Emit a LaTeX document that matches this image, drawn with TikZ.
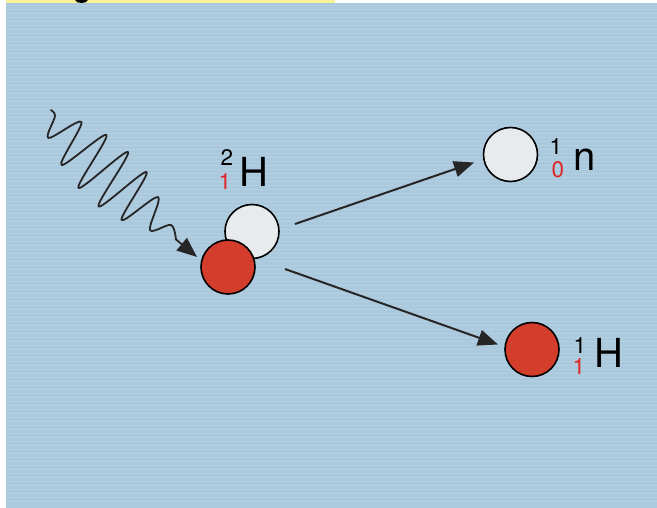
\documentclass[tikz,border=0pt]{standalone}
\usepackage{fontspec}
\setmainfont{TeX Gyre Heros}
\usetikzlibrary{arrows.meta}
\definecolor{bgblue}{RGB}{171,201,221}
\definecolor{stripe}{RGB}{188,213,230}
\definecolor{banner}{RGB}{250,242,150}
\definecolor{nucred}{RGB}{212,60,44}
\definecolor{nucwhite}{RGB}{232,235,237}
\definecolor{numred}{RGB}{222,40,40}
\tikzset{
  nucleon/.style={circle, draw=black, line width=1.6pt, minimum size=54pt, inner sep=0pt},
  proton/.style={nucleon, fill=nucred},
  neutron/.style={nucleon, fill=nucwhite},
  sym/.style={font=\fontsize{40}{40}\selectfont, inner sep=0pt, anchor=base west},
  num/.style={font=\fontsize{22.5}{22.5}\selectfont, inner sep=0pt, anchor=base},
  redn/.style={num, text=numred},
  reaction/.style={line width=2pt, draw=black!85, -{Triangle[length=20pt,width=16pt]}},
}
\begin{document}
\begin{tikzpicture}[x=1pt,y=-1pt]
\useasboundingbox (0,0) rectangle (657,508);
\fill[white] (0,0) rectangle (657,508);
\fill[bgblue] (6,3) rectangle (657,508);
\foreach \yy in {5,9,...,505} {\draw[stripe, line width=0.8pt, opacity=0.5] (6,\yy) -- (657,\yy);}
\fill[banner] (6,0) rectangle (335,3);
\fill[black] (75,0) .. controls (76,4) and (87,4) .. (88,0) -- cycle;

% deuteron
\node[neutron] (dn) at (252,231.5) {};
\node[proton] (dp) at (228,267) {};
\node[sym] (dH) at (239,187) {H};
\node[num] (dA) at (227,166) {2};
\node[redn] (dZ) at (225,190) {1};

% products
\node[neutron] (n) at (510.5,154.5) {};
\node[num] (nA) at (556,155) {1};
\node[redn] (nZ) at (558,178) {0};
\node[sym] (nsym) at (573,171) {n};

\node[proton] (p) at (532,349.5) {};
\node[num] (pA) at (580,353) {1};
\node[redn] (pZ) at (579,374) {1};
\node[sym] (pH) at (594,367) {H};

% arrows
\coordinate (a1s) at (295,224);
\coordinate (a1e) at (474,162.5);
\coordinate (a2s) at (285,269);
\coordinate (a2e) at (498,344.5);
\draw[reaction] (a1s) -- (a1e);
\draw[reaction] (a2s) -- (a2e);

% photon
\coordinate (ph) at (197,257);
\draw[black!85, line width=1.8pt, line join=round]
  plot[smooth, tension=0.55] coordinates {(50.5,110) (55,116) (48.5,138) (81.5,122) (61.5,165) (106.5,135) (78.5,188) (128,152) (98.5,206.5) (146.5,172) (121.5,220) (158,197) (150,230) (171,225) (176,240)};
\draw[black!85, line width=1.8pt, -{Triangle[length=20pt,width=16pt]}] (175.5,239) -- (ph);
\end{tikzpicture}
\end{document}
